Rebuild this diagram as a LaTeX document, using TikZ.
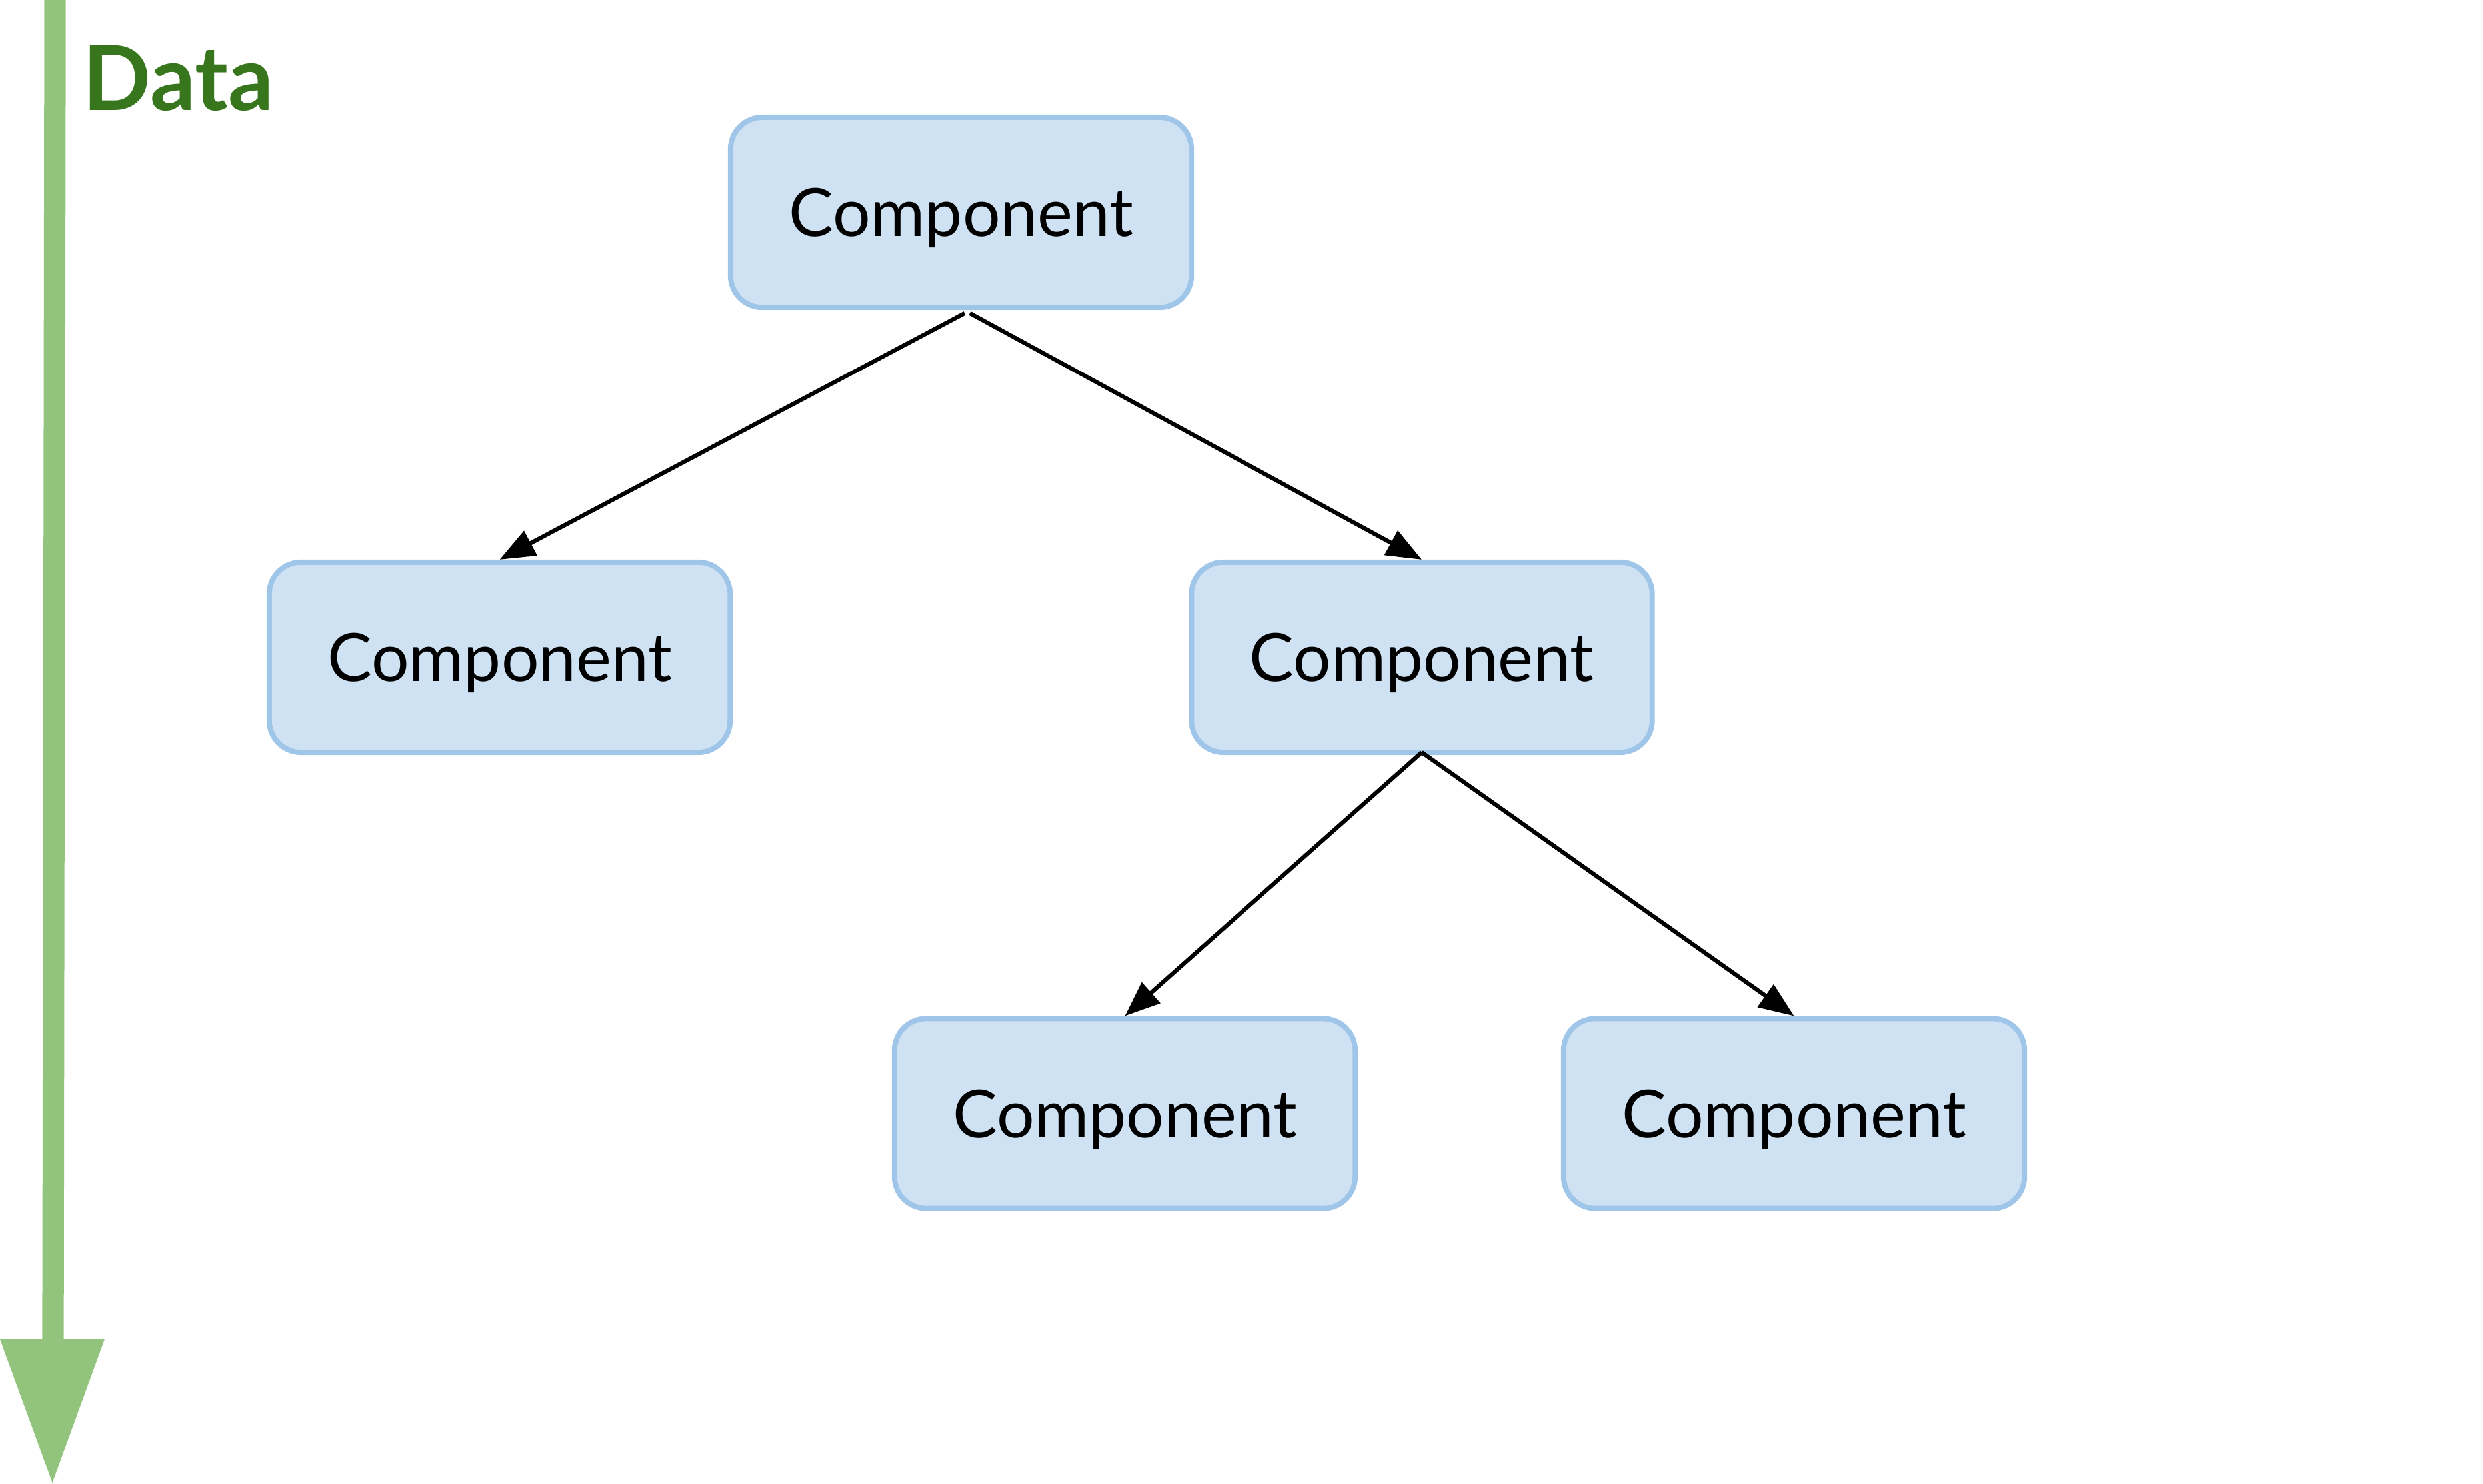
\documentclass[tikz,border=0pt]{standalone}
\usepackage{fontspec}
\setmainfont{Lato}
\usetikzlibrary{arrows.meta}
\definecolor{boxfill}{HTML}{CFE2F3}
\definecolor{boxline}{HTML}{9FC5E8}
\definecolor{flowgreen}{HTML}{93C47D}
\definecolor{datagreen}{HTML}{38761D}
\tikzset{
  compbox/.style={draw=boxline, fill=boxfill, line width=0.033cm, rounded corners=0.2cm,
    minimum width=2.894cm, minimum height=1.194cm, inner sep=0pt, text depth=0pt,
    font=\fontsize{11.9}{14}\selectfont},
  link/.style={line width=0.026cm, -{Triangle[length=0.22cm,width=0.17cm]}}
}
\begin{document}
\begin{tikzpicture}[x=0.01cm,y=-0.01cm]
\useasboundingbox (0,0) rectangle (1560,932.6);
% data flow arrow
\draw[flowgreen, line width=0.135cm] (34.6,0) -- (33.3,843);
\fill[flowgreen] (0,841.7) -- (65.7,841.7) -- (32.9,931.8) -- cycle;
\node[anchor=base west, inner sep=0pt, text=datagreen, font=\fontsize{16}{19}\selectfont\bfseries] (data) at (51.5,69.5) {Data};
% components
\node[compbox] (top) at (603.7,133.4) {Component};
\node[compbox] (left) at (313.9,413.1) {Component};
\node[compbox] (right) at (893.3,413.1) {Component};
\node[compbox] (bl) at (706.7,699.8) {Component};
\node[compbox] (br) at (1127.2,699.8) {Component};
% connectors
\draw[link] ([xshift=0.023cm,yshift=-0.02cm]top.south) -- (left.north);
\draw[link] ([xshift=0.056cm,yshift=-0.02cm]top.south) -- (right.north);
\draw[link] ([yshift=0.017cm]right.south) -- (bl.north);
\draw[link] ([yshift=0.017cm]right.south) -- (br.north);
\end{tikzpicture}
\end{document}
